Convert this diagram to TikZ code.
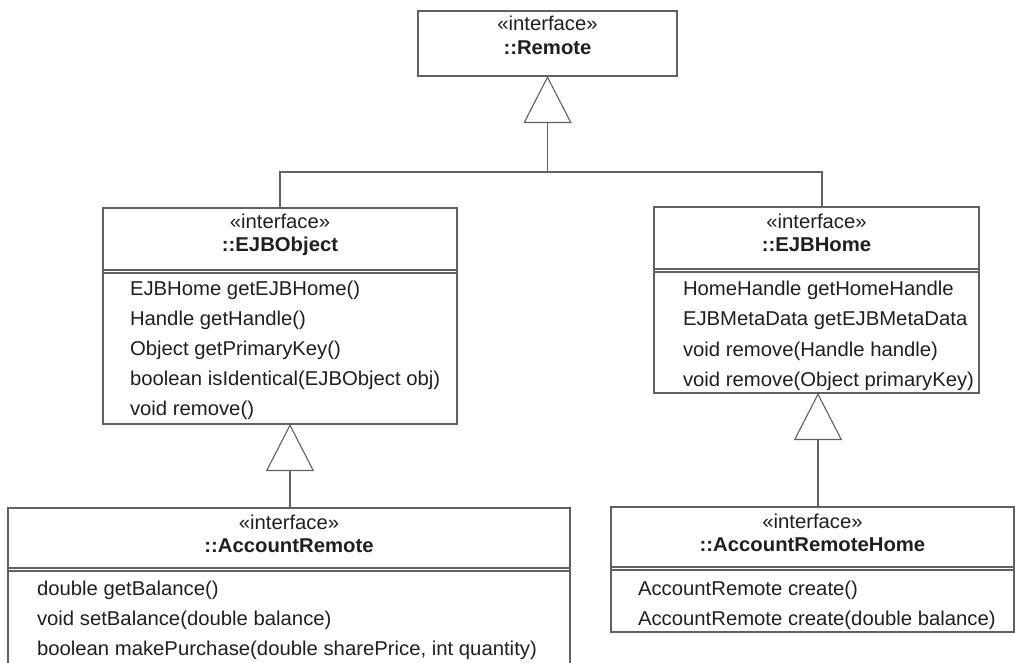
\documentclass[tikz,border=0pt]{standalone}
\usepackage{fontspec}
\setmainfont{Liberation Sans}[FakeStretch=1.015]
\usetikzlibrary{arrows.meta}
\begin{document}
\begin{tikzpicture}[x=1pt,y=-1pt,
  line width=1.1pt,
  every node/.style={inner sep=0pt, outer sep=0pt, text=black!88},
  classbox/.style={draw=black!62, anchor=north west, fill=none},
  stereo/.style={font=\fontsize{20}{24}\selectfont, text height=14pt, text depth=4pt, anchor=center},
  cname/.style={font=\fontsize{20}{24}\selectfont\bfseries, text height=14pt, text depth=4pt, anchor=center},
  member/.style={font=\fontsize{20}{24}\selectfont, text height=14pt, text depth=4pt, anchor=west},
  sep/.style={draw=black!62},
  wire/.style={draw=black!62},
  gen/.style={draw=black!62, -{Triangle[open, length=47pt, width=48pt, fill=white]}}
]
\useasboundingbox (0,0) rectangle (1015,662);

% ---------- ::Remote ----------
\node[classbox, minimum width=259pt, minimum height=65pt] (remote) at (418,11) {};
\node[stereo] (remoteS) at (547.5,25) {«interface»};
\node[cname]  (remoteN) at (547.5,49) {::Remote};

% ---------- ::EJBObject ----------
\node[classbox, minimum width=354pt, minimum height=216pt] (ejbo) at (103,208) {};
\node[stereo] (ejboS) at (280,223) {«interface»};
\node[cname]  (ejboN) at (280,246) {::EJBObject};
\draw[sep] (103,270) -- (457,270);
\draw[sep] (103,273) -- (457,273);
\node[member] (ejbo1) at (130,290) {EJBHome getEJBHome()};
\node[member] (ejbo2) at (130,320) {Handle getHandle()};
\node[member] (ejbo3) at (130,350) {Object getPrimaryKey()};
\node[member] (ejbo4) at (130,380) {boolean isIdentical(EJBObject obj)};
\node[member] (ejbo5) at (130,410) {void remove()};

% ---------- ::EJBHome ----------
\node[classbox, minimum width=325pt, minimum height=186pt] (ejbh) at (654,207) {};
\node[stereo] (ejbhS) at (816.5,223) {«interface»};
\node[cname]  (ejbhN) at (816.5,246) {::EJBHome};
\draw[sep] (654,269) -- (979,269);
\draw[sep] (654,272) -- (979,272);
\node[member] (ejbh1) at (683,290) {HomeHandle getHomeHandle};
\node[member] (ejbh2) at (683,320) {EJBMetaData getEJBMetaData};
\node[member] (ejbh3) at (683,351) {void remove(Handle handle)};
\node[member] (ejbh4) at (683,381) {void remove(Object primaryKey)};

% ---------- ::AccountRemote ----------
\node[classbox, minimum width=562pt, minimum height=170pt] (acr) at (8,508) {};
\node[stereo] (acrS) at (289,524) {«interface»};
\node[cname]  (acrN) at (289,547) {::AccountRemote};
\draw[sep] (8,568) -- (570,568);
\draw[sep] (8,571) -- (570,571);
\node[member] (acr1) at (37,590) {double getBalance()};
\node[member] (acr2) at (37,620) {void setBalance(double balance)};
\node[member] (acr3) at (37,650) {boolean makePurchase(double sharePrice, int quantity)};

% ---------- ::AccountRemoteHome ----------
\node[classbox, minimum width=403pt, minimum height=125pt] (arh) at (611,507) {};
\node[stereo] (arhS) at (812.5,523) {«interface»};
\node[cname]  (arhN) at (812.5,546) {::AccountRemoteHome};
\draw[sep] (611,567) -- (1014,567);
\draw[sep] (611,570) -- (1014,570);
\node[member] (arh1) at (638,590) {AccountRemote create()};
\node[member] (arh2) at (638,620) {AccountRemote create(double balance)};

% ---------- generalisations ----------
\coordinate (bus) at (remote.south |- 0,172);
\draw[wire] (ejbo.north) |- (bus) -| ([xshift=5.5pt]ejbh.north);
\draw[gen] (bus) -- (remote.south);
\draw[gen] ([xshift=10pt]ejbo.south |- acr.north) -- ([xshift=10pt]ejbo.south);
\draw[gen] ([xshift=5.5pt]arh.north) -- ([xshift=1.5pt]ejbh.south);
\end{tikzpicture}
\end{document}
